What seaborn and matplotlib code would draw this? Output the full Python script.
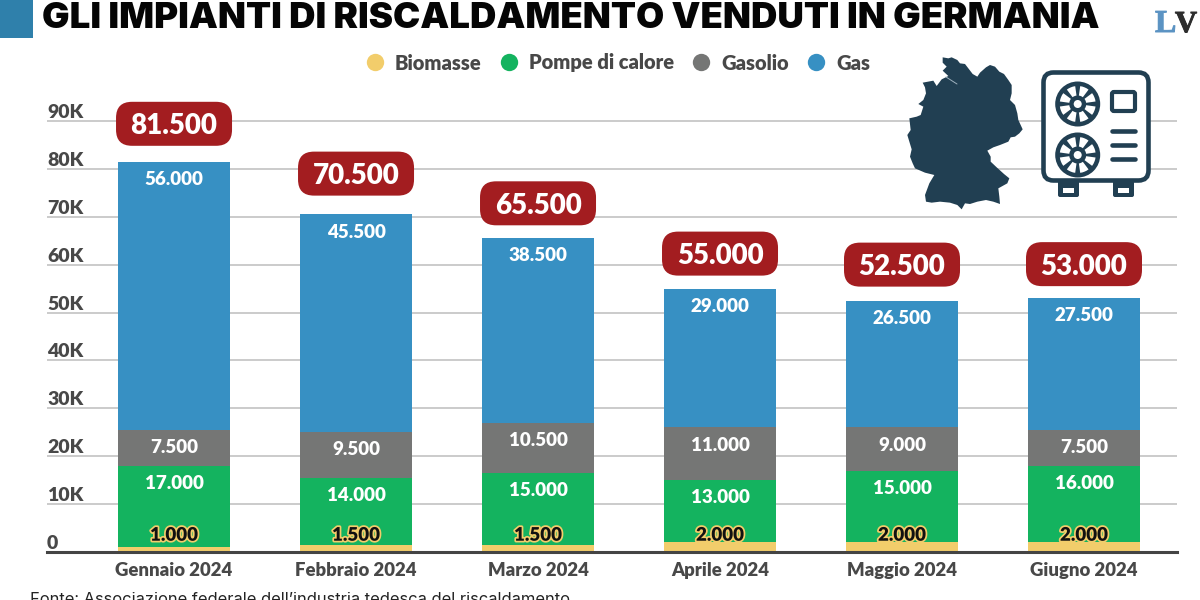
import numpy as np
import seaborn as sns
import matplotlib
matplotlib.use("Agg")
import matplotlib.pyplot as plt
import matplotlib.patheffects as pe
from matplotlib.lines import Line2D
from matplotlib.patches import Circle, FancyBboxPatch, Polygon, Rectangle, Wedge

# --- DATI ---
MONTHS = ["Gennaio 2024", "Febbraio 2024", "Marzo 2024", "Aprile 2024", "Maggio 2024", "Giugno 2024"]
BIOMASSE = [1000, 1500, 1500, 2000, 2000, 2000]
POMPE = [17000, 14000, 15000, 13000, 15000, 16000]
GASOLIO = [7500, 9500, 10500, 11000, 9000, 7500]
GAS = [56000, 45500, 38500, 29000, 26500, 27500]
TOTALS = [81500, 70500, 65500, 55000, 52500, 53000]
Y_TICKS = [0, 10000, 20000, 30000, 40000, 50000, 60000, 70000, 80000, 90000]
Y_LABELS = ["0", "10K", "20K", "30K", "40K", "50K", "60K", "70K", "80K", "90K"]

# --- STILE ---
YELLOW = "#F2CD6B"
GREEN = "#14B35F"
GREY = "#757675"
BLUE = "#3790C3"
RED = "#A31D20"
DARK = "#213F52"
TEXT = "#484848"
FONT = "Lato"
WEIGHT = 800

# distanza del badge sopra la barra (in unita' del grafico)
BADGE_GAP = [7900, 8500, 7300, 7300, 7500, 7100]
LABEL_DROP = 3700

# sagoma della Germania, ricalcata a mano (pixel dell'immagine x3, origine 900,50)
GERMANY = [(128, 22), (145, 25), (155, 22), (172, 30), (180, 40), (195, 42), (205, 55), (218, 72), (232, 80),
           (240, 68), (258, 52), (270, 45), (285, 50), (298, 65), (312, 72), (325, 90), (335, 105), (335, 130),
           (330, 150), (345, 165), (352, 190), (355, 210), (362, 225), (368, 238), (358, 250), (345, 260),
           (332, 262), (325, 275), (300, 285), (280, 292), (262, 302), (272, 320), (272, 335), (290, 352),
           (312, 372), (328, 385), (322, 400), (295, 415), (298, 440), (300, 462), (280, 455), (258, 450),
           (232, 455), (210, 462), (195, 460), (185, 478), (172, 465), (150, 458), (120, 455), (95, 458),
           (78, 455), (75, 435), (88, 400), (103, 375), (75, 368), (45, 355), (38, 340), (30, 320), (35, 298),
           (22, 255), (32, 240), (28, 205), (50, 200), (62, 195), (70, 170), (55, 162), (70, 150), (78, 130),
           (75, 112), (68, 98), (100, 92), (110, 108), (125, 88), (145, 78), (128, 62), (140, 50), (128, 38)]


def fmt(v):
    return f"{v:,}".replace(",", ".")


def draw_fan(ax, cx, cy):
    # ventola dell'icona: disco scuro, spicchi bianchi, mozzo
    ax.add_patch(Circle((cx, cy), 22.5, color=DARK, lw=0))
    for a in range(0, 360, 45):
        ax.add_patch(Wedge((cx, cy), 18, a + 8, a + 37, width=9.5, color="white", lw=0))
    ax.add_patch(Circle((cx, cy), 4, color="white", lw=0))


def draw_icons(ax):
    ax.add_patch(Polygon([(900 + x / 3, 50 + y / 3) for x, y in GERMANY], closed=True, color=DARK, lw=0))
    ax.plot([946, 957], [77, 84], color="#9FB2BE", lw=0.7)

    # icona pompa di calore
    for foot_x in [1058, 1113]:
        ax.add_patch(FancyBboxPatch((foot_x, 180), 21, 17, boxstyle="round,pad=0,rounding_size=2", color=DARK, lw=0))
        ax.add_patch(Rectangle((foot_x + 5, 188), 11, 5, color="white", lw=0))
    ax.add_patch(FancyBboxPatch((1043.5, 72.5), 105, 108, boxstyle="round,pad=0,rounding_size=10",
                                fc="white", ec=DARK, lw=3.3))
    draw_fan(ax, 1077.7, 104)
    draw_fan(ax, 1077.7, 155)
    ax.add_patch(FancyBboxPatch((1112, 92), 23, 19, boxstyle="round,pad=0,rounding_size=2",
                                fc="white", ec=DARK, lw=3))
    for y in [130.7, 144.7, 158.7]:
        ax.plot([1112, 1135], [y, y], color=DARK, lw=3.3, solid_capstyle="round")


def main():
    sns.set_theme(style="white")
    plt.rcParams["font.family"] = [FONT, "DejaVu Sans"]

    fig = plt.figure(figsize=(12, 6), dpi=100)
    # asse principale: griglia da x=47 a x=1177, base a y=552
    ax = fig.add_axes([47 / 1200, 48 / 600, 1130 / 1200, 452 / 600])

    # 1. Barre impilate
    series = [(BIOMASSE, YELLOW), (POMPE, GREEN), (GASOLIO, GREY), (GAS, BLUE)]
    bottom = np.zeros(len(MONTHS))
    tops = []
    for values, color in series:
        sns.barplot(x=MONTHS, y=values, bottom=bottom, color=color, saturation=1,
                    width=0.615, linewidth=0, ax=ax, zorder=3)
        bottom = bottom + np.array(values)
        tops.append(bottom.copy())

    # 2. Assi
    ax.set_xlim(-0.698, 5.511)
    ax.set_ylim(0, 94370)
    ax.set_yticks(Y_TICKS)
    ax.set_yticklabels(Y_LABELS, ha="left", va="bottom", fontsize=14, fontweight=WEIGHT, color=TEXT)
    ax.tick_params(axis="y", length=0, pad=0)
    ax.tick_params(axis="x", length=0, pad=7, labelsize=13.3, labelcolor=TEXT)
    for label in ax.get_xticklabels():
        label.set_fontweight(WEIGHT)
    ax.grid(axis="y", color="#BDBDBD", lw=1.1, zorder=0)
    ax.grid(axis="x", visible=False)
    ax.set_axisbelow(True)
    sns.despine(ax=ax, left=True, top=True, right=True)
    ax.spines["bottom"].set_color("#444444")
    ax.spines["bottom"].set_linewidth(2.2)
    ax.spines["bottom"].set_zorder(5)
    ax.set_xlabel("")
    ax.set_ylabel("")

    # 3. Etichette dei valori
    for i in range(len(MONTHS)):
        ax.text(i, 3500, fmt(BIOMASSE[i]), ha="center", va="center", fontsize=13.5, fontweight=WEIGHT,
                color="#111111", zorder=6,
                path_effects=[pe.withStroke(linewidth=2.5, foreground=YELLOW)])
        for values, top_vals in [(POMPE, tops[1]), (GASOLIO, tops[2]), (GAS, tops[3])]:
            ax.text(i, top_vals[i] - LABEL_DROP, fmt(values[i]), ha="center", va="center", fontsize=13.5,
                    fontweight=WEIGHT, color="white", zorder=6)

    # 4. Legenda
    names = ["Biomasse", "Pompe di calore", "Gasolio", "Gas"]
    colors = [YELLOW, GREEN, GREY, BLUE]
    handles = [Line2D([], [], ls="", marker="o", ms=12.5, mew=0, color=c) for c in colors]
    leg = fig.legend(handles, names, loc="center", bbox_to_anchor=(618 / 1200, 1 - 63 / 600), ncol=4,
                     frameon=False, columnspacing=0.9, handlelength=0.9, handletextpad=0.55,
                     prop={"family": FONT, "weight": WEIGHT, "size": 14.5})
    for t in leg.get_texts():
        t.set_color(TEXT)

    # 5. Livello in pixel per titolo, logo e icone
    top = fig.add_axes([0, 0, 1, 1], facecolor="none", zorder=10)
    top.set_xlim(0, 1200)
    top.set_ylim(600, 0)
    top.axis("off")
    top.add_patch(Rectangle((0, 0), 33, 38, color="#2F80AB", lw=0))
    top.text(42, 28, "GLI IMPIANTI DI RISCALDAMENTO VENDUTI IN GERMANIA", ha="left", va="baseline",
             fontsize=26.3, fontweight="black", family=["Inter", "DejaVu Sans"], color="#050505")
    logo_fx = [pe.withStroke(linewidth=0.7, foreground="#5B93C3")]
    top.text(1155, 32, "L", ha="left", va="baseline", fontsize=23, fontweight="bold", fontstyle="normal",
             family="Liberation Serif", color="#5B93C3", path_effects=logo_fx)
    logo_fx = [pe.withStroke(linewidth=0.7, foreground="#2D2D2D")]
    top.text(1175, 32, "V", ha="left", va="baseline", fontsize=22, fontweight="bold", fontstyle="normal",
             family="Liberation Serif", color="#2D2D2D", path_effects=logo_fx)
    top.text(30, 604, "Fonte: Associazione federale dell\u2019industria tedesca del riscaldamento",
             ha="left", va="baseline", fontsize=11.9, family=["Inter", "DejaVu Sans"], color="#222222")
    draw_icons(top)

    # 6. Badge dei totali, posizionati dai valori tramite la scala dell'asse
    fig.canvas.draw()
    for i, total in enumerate(TOTALS):
        px, py = ax.transData.transform((i, total + BADGE_GAP[i]))
        py = 600 - py
        top.add_patch(FancyBboxPatch((px - 58, py - 22), 116, 44, boxstyle="round,pad=0,rounding_size=16",
                                     fc=RED, ec="none"))
        top.text(px, py, fmt(total), ha="center", va="center_baseline", fontsize=20, fontweight=WEIGHT, color="white")

    fig.savefig("out.png", dpi=100)
    plt.close(fig)


if __name__ == "__main__":
    main()
